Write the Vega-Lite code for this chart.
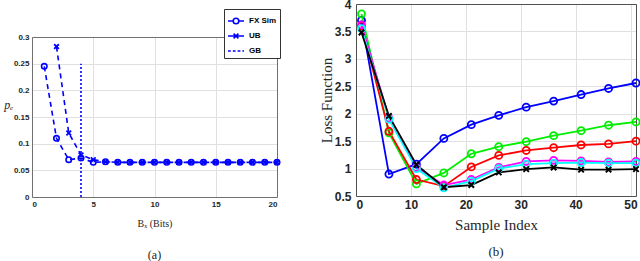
{
  "$schema": "https://vega.github.io/schema/vega-lite/v6.json",
  "padding": {"left": 3, "top": -3, "right": 0, "bottom": 0},
  "spacing": 34,
  "data": {"values": [
    {"panel": "a", "series": "FX Sim", "x": 1, "y": 0.245}, {"panel": "a", "series": "FX Sim", "x": 2, "y": 0.11}, {"panel": "a", "series": "FX Sim", "x": 3, "y": 0.07},
    {"panel": "a", "series": "FX Sim", "x": 4, "y": 0.073}, {"panel": "a", "series": "FX Sim", "x": 5, "y": 0.065}, {"panel": "a", "series": "FX Sim", "x": 6, "y": 0.066},
    {"panel": "a", "series": "FX Sim", "x": 7, "y": 0.065}, {"panel": "a", "series": "FX Sim", "x": 8, "y": 0.065}, {"panel": "a", "series": "FX Sim", "x": 9, "y": 0.065},
    {"panel": "a", "series": "FX Sim", "x": 10, "y": 0.065}, {"panel": "a", "series": "FX Sim", "x": 11, "y": 0.065}, {"panel": "a", "series": "FX Sim", "x": 12, "y": 0.065},
    {"panel": "a", "series": "FX Sim", "x": 13, "y": 0.065}, {"panel": "a", "series": "FX Sim", "x": 14, "y": 0.065}, {"panel": "a", "series": "FX Sim", "x": 15, "y": 0.065},
    {"panel": "a", "series": "FX Sim", "x": 16, "y": 0.065}, {"panel": "a", "series": "FX Sim", "x": 17, "y": 0.065}, {"panel": "a", "series": "FX Sim", "x": 18, "y": 0.065},
    {"panel": "a", "series": "FX Sim", "x": 19, "y": 0.065}, {"panel": "a", "series": "FX Sim", "x": 20, "y": 0.065},
    {"panel": "a", "series": "UB", "x": 2, "y": 0.282}, {"panel": "a", "series": "UB", "x": 3, "y": 0.12}, {"panel": "a", "series": "UB", "x": 4, "y": 0.079},
    {"panel": "a", "series": "UB", "x": 5, "y": 0.07}, {"panel": "a", "series": "UB", "x": 6, "y": 0.066}, {"panel": "a", "series": "UB", "x": 7, "y": 0.065},
    {"panel": "a", "series": "UB", "x": 8, "y": 0.065}, {"panel": "a", "series": "UB", "x": 9, "y": 0.065}, {"panel": "a", "series": "UB", "x": 10, "y": 0.065},
    {"panel": "a", "series": "UB", "x": 11, "y": 0.065}, {"panel": "a", "series": "UB", "x": 12, "y": 0.065}, {"panel": "a", "series": "UB", "x": 13, "y": 0.065},
    {"panel": "a", "series": "UB", "x": 14, "y": 0.065}, {"panel": "a", "series": "UB", "x": 15, "y": 0.065}, {"panel": "a", "series": "UB", "x": 16, "y": 0.065},
    {"panel": "a", "series": "UB", "x": 17, "y": 0.065}, {"panel": "a", "series": "UB", "x": 18, "y": 0.065}, {"panel": "a", "series": "UB", "x": 19, "y": 0.065},
    {"panel": "a", "series": "UB", "x": 20, "y": 0.065},
    {"panel": "a", "series": "GB", "x": 4, "y": 0}, {"panel": "a", "series": "GB", "x": 4, "y": 0.25},
    {"panel": "b", "series": "BW =5", "x": 1, "y": 3.7}, {"panel": "b", "series": "BW =5", "x": 6, "y": 0.9}, {"panel": "b", "series": "BW =5", "x": 11, "y": 1.08},
    {"panel": "b", "series": "BW =5", "x": 16, "y": 1.55}, {"panel": "b", "series": "BW =5", "x": 21, "y": 1.8}, {"panel": "b", "series": "BW =5", "x": 26, "y": 1.97},
    {"panel": "b", "series": "BW =5", "x": 31, "y": 2.12}, {"panel": "b", "series": "BW =5", "x": 36, "y": 2.23}, {"panel": "b", "series": "BW =5", "x": 41, "y": 2.35},
    {"panel": "b", "series": "BW =5", "x": 46, "y": 2.46}, {"panel": "b", "series": "BW =5", "x": 51, "y": 2.56},
    {"panel": "b", "series": "BW =6", "x": 1, "y": 3.82}, {"panel": "b", "series": "BW =6", "x": 6, "y": 1.65}, {"panel": "b", "series": "BW =6", "x": 11, "y": 0.72},
    {"panel": "b", "series": "BW =6", "x": 16, "y": 0.92}, {"panel": "b", "series": "BW =6", "x": 21, "y": 1.27}, {"panel": "b", "series": "BW =6", "x": 26, "y": 1.4},
    {"panel": "b", "series": "BW =6", "x": 31, "y": 1.49}, {"panel": "b", "series": "BW =6", "x": 36, "y": 1.6}, {"panel": "b", "series": "BW =6", "x": 41, "y": 1.69},
    {"panel": "b", "series": "BW =6", "x": 46, "y": 1.79}, {"panel": "b", "series": "BW =6", "x": 51, "y": 1.85},
    {"panel": "b", "series": "BW =7", "x": 1, "y": 3.6}, {"panel": "b", "series": "BW =7", "x": 6, "y": 1.68}, {"panel": "b", "series": "BW =7", "x": 11, "y": 0.8},
    {"panel": "b", "series": "BW =7", "x": 16, "y": 0.68}, {"panel": "b", "series": "BW =7", "x": 21, "y": 1.03}, {"panel": "b", "series": "BW =7", "x": 26, "y": 1.24},
    {"panel": "b", "series": "BW =7", "x": 31, "y": 1.33}, {"panel": "b", "series": "BW =7", "x": 36, "y": 1.38}, {"panel": "b", "series": "BW =7", "x": 41, "y": 1.43},
    {"panel": "b", "series": "BW =7", "x": 46, "y": 1.45}, {"panel": "b", "series": "BW =7", "x": 51, "y": 1.5},
    {"panel": "b", "series": "BW =10", "x": 1, "y": 3.62}, {"panel": "b", "series": "BW =10", "x": 6, "y": 1.92}, {"panel": "b", "series": "BW =10", "x": 11, "y": 1.02},
    {"panel": "b", "series": "BW =10", "x": 16, "y": 0.7}, {"panel": "b", "series": "BW =10", "x": 21, "y": 0.8}, {"panel": "b", "series": "BW =10", "x": 26, "y": 1.02},
    {"panel": "b", "series": "BW =10", "x": 31, "y": 1.13}, {"panel": "b", "series": "BW =10", "x": 36, "y": 1.15}, {"panel": "b", "series": "BW =10", "x": 41, "y": 1.14},
    {"panel": "b", "series": "BW =10", "x": 46, "y": 1.12}, {"panel": "b", "series": "BW =10", "x": 51, "y": 1.13},
    {"panel": "b", "series": "BW =11", "x": 1, "y": 3.55}, {"panel": "b", "series": "BW =11", "x": 6, "y": 1.9}, {"panel": "b", "series": "BW =11", "x": 11, "y": 1.0},
    {"panel": "b", "series": "BW =11", "x": 16, "y": 0.65}, {"panel": "b", "series": "BW =11", "x": 21, "y": 0.77}, {"panel": "b", "series": "BW =11", "x": 26, "y": 1.0},
    {"panel": "b", "series": "BW =11", "x": 31, "y": 1.08}, {"panel": "b", "series": "BW =11", "x": 36, "y": 1.1}, {"panel": "b", "series": "BW =11", "x": 41, "y": 1.11},
    {"panel": "b", "series": "BW =11", "x": 46, "y": 1.1}, {"panel": "b", "series": "BW =11", "x": 51, "y": 1.1},
    {"panel": "b", "series": "FL Sim", "x": 1, "y": 3.48}, {"panel": "b", "series": "FL Sim", "x": 6, "y": 1.96}, {"panel": "b", "series": "FL Sim", "x": 11, "y": 1.07},
    {"panel": "b", "series": "FL Sim", "x": 16, "y": 0.66}, {"panel": "b", "series": "FL Sim", "x": 21, "y": 0.7}, {"panel": "b", "series": "FL Sim", "x": 26, "y": 0.93},
    {"panel": "b", "series": "FL Sim", "x": 31, "y": 0.99}, {"panel": "b", "series": "FL Sim", "x": 36, "y": 1.02}, {"panel": "b", "series": "FL Sim", "x": 41, "y": 0.98},
    {"panel": "b", "series": "FL Sim", "x": 46, "y": 0.98}, {"panel": "b", "series": "FL Sim", "x": 51, "y": 0.99}
  ]},
  "resolve": {"scale": {"shape": "independent", "color": "independent"}},
  "hconcat": [
    {
      "spacing": 20,
      "bounds": "flush",
      "vconcat": [
        {
          "width": 245, "height": 13,
          "data": {"values": [{"k": 1}]},
          "mark": {"type": "point", "opacity": 0}
        },
        {
          "width": 245, "height": 160,
          "transform": [{"filter": "datum.panel === 'a'"}],
          "title": {"text": "(a)", "orient": "bottom", "font": "Liberation Serif", "fontSize": 12, "fontWeight": "normal", "color": "#222", "offset": 22},
          "resolve": {"axis": {"x": "independent", "y": "independent"}},
          "layer": [
            {
              "encoding": {
                "x": {"field": "x", "type": "quantitative", "scale": {"domain": [0, 20], "nice": false},
                      "axis": {"tickCount": 5, "labelOverlap": false, "labelFont": "Liberation Sans", "labelFontWeight": "bold", "labelFontSize": 8, "labelColor": "#262626", "labelPadding": 3, "ticks": false, "domain": true, "domainColor": "#707070", "gridColor": "#e0e0e0",
                               "title": "B\u2093 (Bits)", "titleFont": "Liberation Serif", "titleFontWeight": "normal", "titleFontSize": 10, "titleColor": "#262626", "titlePadding": 10}},
                "y": {"field": "y", "type": "quantitative", "scale": {"domain": [0, 0.3], "nice": false},
                      "axis": {"tickCount": 7, "format": "~g", "labelOverlap": false, "labelFont": "Liberation Sans", "labelFontWeight": "bold", "labelFontSize": 8, "labelColor": "#262626", "labelPadding": 3, "ticks": false, "domain": true, "domainColor": "#707070", "gridColor": "#e0e0e0",
                               "title": "p\u2091", "titleFont": "Liberation Serif", "titleFontStyle": "italic", "titleFontWeight": "normal", "titleFontSize": 12, "titleColor": "#262626", "titleAngle": 0, "titleBaseline": "middle", "titleAlign": "center", "titlePadding": 5, "titleY": 67}}
              },
              "layer": [
                {
                  "mark": {"type": "line", "strokeWidth": 1.6, "color": "#0000ff"},
                  "encoding": {
                    "detail": {"field": "series"},
                    "strokeDash": {"field": "series", "scale": {"domain": ["FX Sim", "UB", "GB"], "range": [[5, 4], [5, 4], [2, 2]]}, "legend": null}
                  }
                },
                {
                  "transform": [{"filter": "datum.series === 'FX Sim'"}],
                  "mark": {"type": "point", "shape": "circle", "filled": false, "size": 30, "strokeWidth": 1.6, "color": "#0000ff", "opacity": 1}
                },
                {
                  "transform": [{"filter": "datum.series === 'UB'"}],
                  "mark": {"type": "point", "shape": "M-1,-1L1,1M-1,1L1,-1", "filled": false, "size": 22, "strokeWidth": 1.8, "color": "#0000ff", "opacity": 1}
                },
                {
                  "mark": {"type": "point", "filled": false, "opacity": 0},
                  "encoding": {
                    "shape": {"field": "series", "scale": {"domain": ["FX Sim", "UB", "GB"], "range": [
                      "M-1,0L-0.35,0M0.35,0L1,0M0.35,0A0.35,0.35 0 1 1 -0.35,0A0.35,0.35 0 1 1 0.35,0",
                      "M-1,0L1,0M-0.3,-0.3L0.3,0.3M-0.3,0.3L0.3,-0.3",
                      "M-1,0L-0.65,0M-0.4,0L-0.05,0M0.2,0L0.55,0M0.8,0L1,0"
                    ]},
                    "legend": {"title": null, "orient": "none", "legendX": 192, "legendY": 5, "padding": 3, "strokeColor": "#333", "fillColor": "white",
                               "labelFontSize": 8, "labelFontWeight": "bold", "labelColor": "#000",
                               "symbolSize": 256, "symbolStrokeColor": "#0000ff", "symbolStrokeWidth": 1.6,
                               "symbolOpacity": 1, "rowPadding": 0}}
                  }
                }
              ]
            },
            {
              "mark": {"type": "point", "opacity": 0},
              "encoding": {
                "x": {"field": "x", "type": "quantitative", "axis": {"orient": "top", "labels": false, "ticks": false, "grid": false, "domain": true, "domainColor": "#707070", "title": null}},
                "y": {"field": "y", "type": "quantitative", "axis": {"orient": "right", "labels": false, "ticks": false, "grid": false, "domain": true, "domainColor": "#707070", "title": null}}
              }
            }
          ]
        }
      ]
    },
    {
      "width": 280, "height": 192,
      "transform": [{"filter": "datum.panel === 'b'"}],
      "title": {"text": "(b)", "orient": "bottom", "font": "Liberation Serif", "fontSize": 13, "fontWeight": "normal", "color": "#222", "offset": 14},
      "resolve": {"axis": {"x": "independent", "y": "independent"}},
      "layer": [
        {
          "encoding": {
            "x": {"field": "x", "type": "quantitative", "scale": {"domain": [0, 51], "nice": false},
                  "axis": {"tickCount": 6, "labelOverlap": false, "labelFont": "Liberation Sans", "labelFontWeight": "bold", "labelFontSize": 12, "labelColor": "#262626", "labelPadding": 3, "ticks": false, "domain": true, "domainColor": "#505050", "gridColor": "#e0e0e0",
                           "title": "Sample Index", "titleFont": "Liberation Serif", "titleFontWeight": "normal", "titleFontSize": 15, "titleColor": "#262626", "titlePadding": 7}},
            "y": {"field": "y", "type": "quantitative", "scale": {"domain": [0.5, 4], "nice": false},
                  "axis": {"tickCount": 8, "format": "~g", "labelOverlap": false, "labelFont": "Liberation Sans", "labelFontWeight": "bold", "labelFontSize": 12, "labelColor": "#262626", "labelPadding": 5, "ticks": false, "domain": true, "domainColor": "#505050", "gridColor": "#e0e0e0",
                           "title": "Loss Function", "titleFont": "Liberation Serif", "titleFontWeight": "normal", "titleFontSize": 15, "titleColor": "#262626", "titlePadding": 0}}
          },
          "layer": [
            {
              "mark": {"type": "line", "strokeWidth": 1.8},
              "encoding": {
                "color": {"field": "series", "scale": {"domain": ["BW =5", "BW =6", "BW =7", "BW =10", "BW =11", "FL Sim"], "range": ["#0000ff", "#00ee00", "#ff0000", "#ff00ff", "#00ffff", "#000000"]}, "legend": null}
              }
            },
            {
              "transform": [{"filter": "datum.series !== 'FL Sim'"}],
              "mark": {"type": "point", "shape": "circle", "filled": false, "size": 50, "strokeWidth": 1.8, "opacity": 1},
              "encoding": {"color": {"field": "series", "legend": null}}
            },
            {
              "transform": [{"filter": "datum.series === 'FL Sim'"}],
              "mark": {"type": "point", "shape": "M-1,-1L1,1M-1,1L1,-1", "filled": false, "size": 30, "strokeWidth": 2, "color": "#000000", "opacity": 1}
            },
            {
              "mark": {"type": "point", "filled": false, "opacity": 0},
              "encoding": {
                "color": {"field": "series"},
                "shape": {"field": "series", "scale": {"domain": ["BW =5", "BW =6", "BW =7", "BW =10", "BW =11", "FL Sim"], "range": [
                  "M-1,0L-0.4,0M0.4,0L1,0M0.4,0A0.4,0.4 0 1 1 -0.4,0A0.4,0.4 0 1 1 0.4,0",
                  "M-1,0L-0.4,0M0.4,0L1,0M0.4,0A0.4,0.4 0 1 1 -0.4,0A0.4,0.4 0 1 1 0.4,0",
                  "M-1,0L-0.4,0M0.4,0L1,0M0.4,0A0.4,0.4 0 1 1 -0.4,0A0.4,0.4 0 1 1 0.4,0",
                  "M-1,0L-0.4,0M0.4,0L1,0M0.4,0A0.4,0.4 0 1 1 -0.4,0A0.4,0.4 0 1 1 0.4,0",
                  "M-1,0L-0.4,0M0.4,0L1,0M0.4,0A0.4,0.4 0 1 1 -0.4,0A0.4,0.4 0 1 1 0.4,0",
                  "M-1,0L1,0M-0.3,-0.3L0.3,0.3M-0.3,0.3L0.3,-0.3"
                ]},
                "legend": {"title": null, "orient": "none", "legendX": 65, "legendY": 2, "padding": 3, "strokeColor": "#222", "fillColor": "white",
                           "labelFontSize": 11, "labelFontWeight": "bold", "labelColor": "#000",
                           "symbolSize": 400, "symbolStrokeWidth": 1.8,
                           "symbolOpacity": 1, "rowPadding": 0}}
              }
            }
          ]
        },
        {
          "mark": {"type": "point", "opacity": 0},
          "encoding": {
            "x": {"field": "x", "type": "quantitative", "axis": {"orient": "top", "labels": false, "ticks": false, "grid": false, "domain": true, "domainColor": "#505050", "title": null}},
            "y": {"field": "y", "type": "quantitative", "axis": {"orient": "right", "labels": false, "ticks": false, "grid": false, "domain": true, "domainColor": "#505050", "title": null}}
          }
        }
      ]
    }
  ]
}
